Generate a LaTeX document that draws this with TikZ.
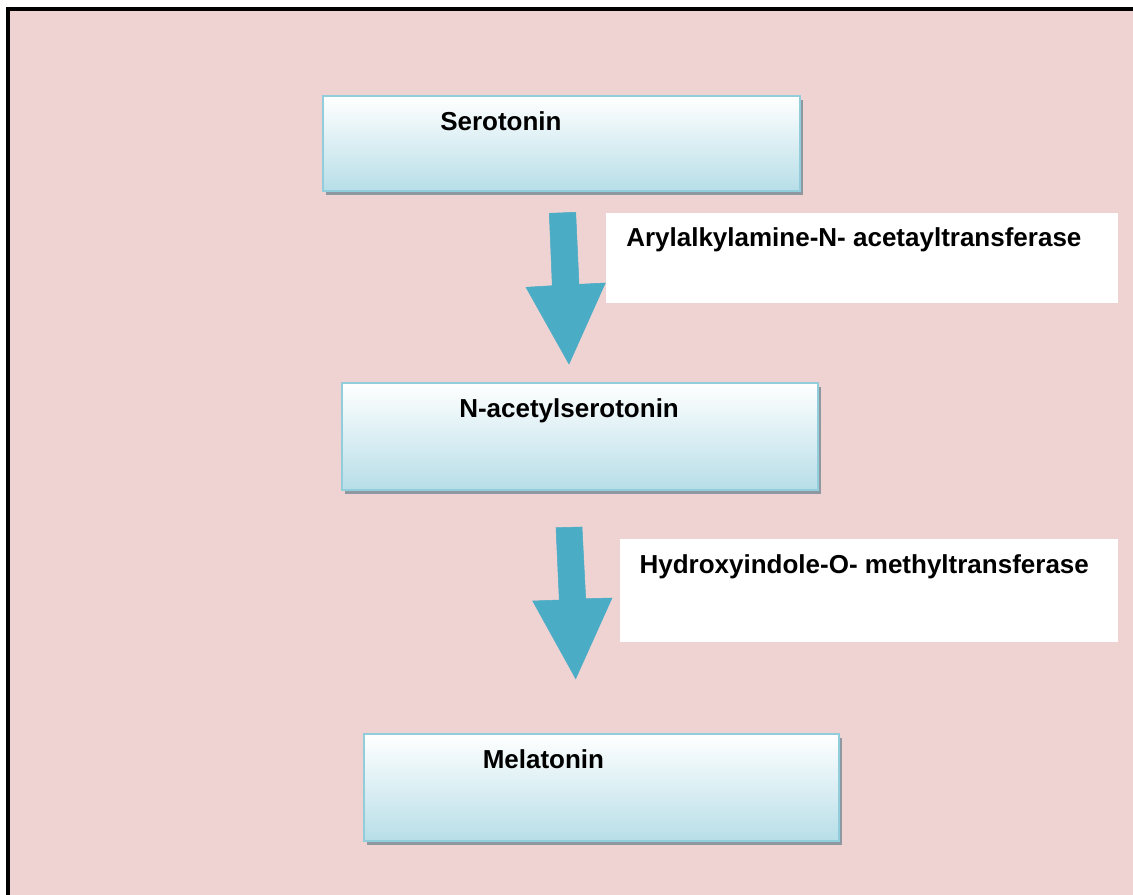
\documentclass[tikz,border=0pt]{standalone}
\usepackage{fontspec}
\setmainfont{Liberation Sans}
\usetikzlibrary{shadows}
\definecolor{bgpink}{RGB}{239,211,211}
\definecolor{arrowblue}{RGB}{75,172,198}
\definecolor{boxedge}{RGB}{146,205,220}
\definecolor{boxfill}{RGB}{183,222,232}
\definecolor{shadowgray}{RGB}{142,152,160}
\begin{document}
\begin{tikzpicture}[x=0.75pt,y=-0.75pt,
  stepbox/.style={rectangle, draw=boxedge, line width=2pt, top color=white, bottom color=boxfill,
    general shadow={fill=shadowgray, shadow xshift=2.25pt, shadow yshift=-3.2pt}, inner sep=0pt},
  labelbox/.style={rectangle, fill=white, draw=none, inner sep=0pt},
  txt/.style={anchor=base west, inner sep=0pt, font=\fontsize{19.5}{23}\selectfont\bfseries},
  bigarrow/.style={fill=arrowblue, draw=arrowblue, line width=0.4pt, line join=miter}]
\useasboundingbox (0,0) rectangle (1133,895);
\fill[white] (0,0) rectangle (1133,895);
\fill[bgpink] (10,11) rectangle (1133,895);
\draw[black, line width=3pt] (8,895) -- (8,9) -- (1133,9);

% boxes
\node[stepbox, minimum width=357.75pt, minimum height=71.25pt] (sero) at (561.5,143.5) {};
\node[stepbox, minimum width=357pt, minimum height=80.25pt] (nacs) at (580,436.5) {};
\node[stepbox, minimum width=356.25pt, minimum height=80.25pt] (mela) at (601.5,787.5) {};
\node[txt] (serot) at (440,131) {Serotonin};
\node[txt] (nacst) at (459,417) {N-acetylserotonin};
\node[txt] (melat) at (482.5,768) {Melatonin};

% enzyme labels
\node[labelbox, minimum width=384pt, minimum height=67.5pt] (enz1) at (862,258) {};
\node[labelbox, minimum width=373.5pt, minimum height=77.25pt] (enz2) at (869,590.5) {};
\node[txt] (enz1t) at (626,246.5) {Arylalkylamine-N- acetayltransferase};
\node[txt] (enz2t) at (639.3,573) {Hydroxyindole-O- methyltransferase};

% block arrows
\coordinate (a1tip) at (569,364);
\coordinate (a2tip) at (575.7,678.7);
\draw[bigarrow] (549.3,213.3) -- (575.7,212.3) -- (579,284.3) -- (605.3,283) -- (a1tip)
  -- (526,287.3) -- (552.3,285.7) -- cycle;
\draw[bigarrow] (556,527.7) -- (582,527) -- (585.7,598.7) -- (612,598) -- (a2tip)
  -- (532.7,601) -- (559.3,600) -- cycle;
\end{tikzpicture}
\end{document}
